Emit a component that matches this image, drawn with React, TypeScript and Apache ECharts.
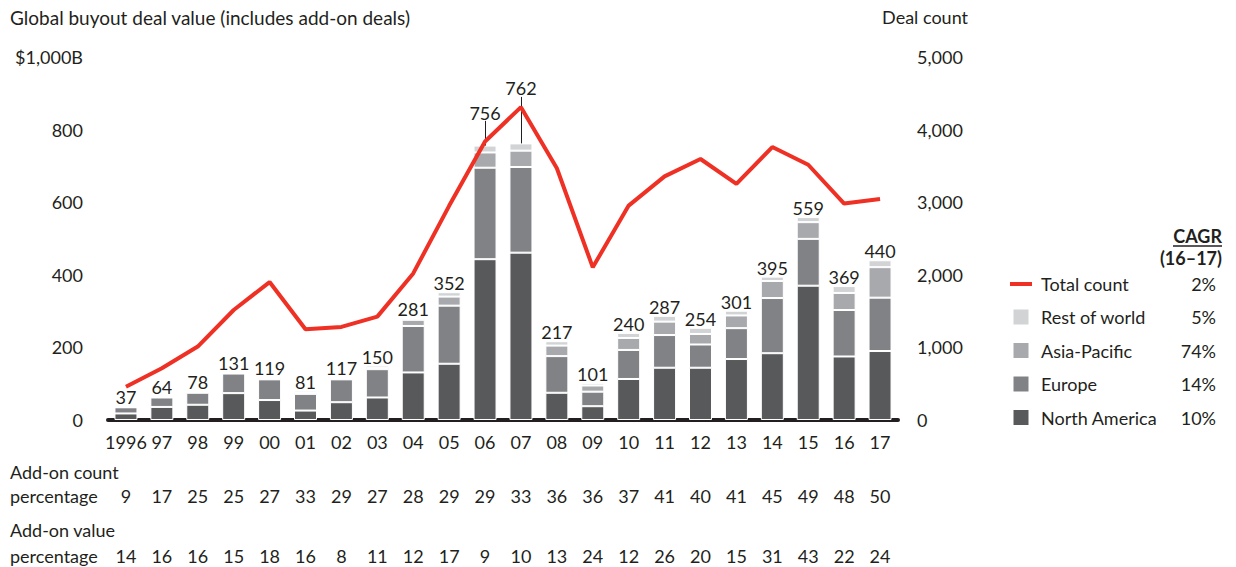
import React, { useEffect, useRef } from 'react';
import * as echarts from 'echarts';

const years = ['1996', '97', '98', '99', '00', '01', '02', '03', '04', '05', '06', '07', '08', '09', '10', '11', '12', '13', '14', '15', '16', '17'];
const totals = [37, 64, 78, 131, 119, 81, 117, 150, 281, 352, 756, 762, 217, 101, 240, 287, 254, 301, 395, 559, 369, 440];
const northAmerica = [18, 36, 42, 74, 55, 26, 49, 62, 131, 155, 443, 461, 75, 38, 113, 144, 144, 168, 184, 370, 175, 190];
const europe = [17, 26, 33, 54, 57, 46, 63, 78, 128, 160, 252, 236, 101, 40, 80, 90, 64, 85, 152, 129, 128, 147];
const asiaPacific = [1, 1, 2, 2, 3, 4, 3, 4, 17, 25, 42, 45, 29, 17, 33, 37, 29, 35, 47, 46, 47, 84];
const restOfWorld = [1, 1, 1, 1, 4, 5, 2, 6, 5, 12, 19, 20, 12, 6, 14, 16, 17, 13, 12, 14, 19, 19];
const dealCount = [457, 712, 1012, 1515, 1900, 1250, 1282, 1424, 2019, 2950, 3837, 4309, 3467, 2103, 2953, 3356, 3595, 3251, 3760, 3516, 2981, 3045];
const addOnCountPct = [9, 17, 25, 25, 27, 33, 29, 27, 28, 29, 29, 33, 36, 36, 37, 41, 40, 41, 45, 49, 48, 50];
const addOnValuePct = [14, 16, 16, 15, 18, 16, 8, 11, 12, 17, 9, 10, 13, 24, 12, 26, 20, 15, 31, 43, 22, 24];
const legendNames = ['Total count', 'Rest of world', 'Asia-Pacific', 'Europe', 'North America'];
const cagr = ['2%', '5%', '74%', '14%', '10%'];
const raisedLabels: Record<string, { dy: number; leaderTop: number }> = {
  '06': { dy: -24, leaderTop: 824 },
  '07': { dy: -46, leaderTop: 890 },
};

const FONT = 'Lato';
const FS = 18;
const TEXT = '#231f20';
const RED = '#ee3124';
const C_NA = '#58595b';
const C_EU = '#808285';
const C_AP = '#a7a9ac';
const C_ROW = '#d1d3d4';

export default function App() {
  const ref = useRef<HTMLDivElement>(null);
  useEffect(() => {
    if (!ref.current) return;
    const chart = echarts.init(ref.current, undefined, { renderer: 'svg' });
    const barBase = {
      type: 'bar',
      stack: 'value',
      barWidth: 23,
      yAxisIndex: 0,
    };
    const square = 'path://M0 0h17v17H0z';
    const rowData = restOfWorld.map((v, i) => {
      const r = raisedLabels[years[i]];
      return r ? { value: v, label: { offset: [0, r.dy] } } : v;
    });
    const leaderLines = Object.keys(raisedLabels).map((k) => {
      const idx = years.indexOf(k);
      return [{ coord: [k, totals[idx]] }, { coord: [k, raisedLabels[k].leaderTop] }];
    });
    const txt = (extra: any) => ({ type: 'text', ...extra, style: { fontSize: FS, fill: TEXT, fontFamily: FONT, ...extra.style } });
    const option: any = {
      animation: false,
      textStyle: { fontFamily: FONT, color: TEXT },
      grid: { left: 108, right: 338, top: 57, bottom: 147 },
      xAxis: {
        type: 'category',
        data: years,
        axisLine: { lineStyle: { color: TEXT, width: 4 } },
        axisTick: { show: false },
        axisLabel: {
          interval: 0,
          margin: 11,
          formatter: (v: string, i: number) =>
            `{y|${v}}\n{g1| }\n{c|${addOnCountPct[i]}}\n{g2| }\n{c|${addOnValuePct[i]}}`,
          rich: {
            y: { fontSize: FS, lineHeight: 22, color: TEXT, fontFamily: FONT },
            g1: { fontSize: 10, lineHeight: 32 },
            c: { fontSize: FS, lineHeight: 22, color: TEXT, fontFamily: FONT },
            g2: { fontSize: 10, lineHeight: 38 },
          },
        },
      },
      yAxis: [
        {
          type: 'value',
          min: 0,
          max: 1000,
          interval: 200,
          splitLine: { show: false },
          axisLine: { show: false },
          axisTick: { show: false },
          axisLabel: {
            margin: 25,
            fontSize: FS,
            color: TEXT,
            fontFamily: FONT,
            formatter: (v: number) => (v === 1000 ? '$1,000B' : String(v)),
          },
        },
        {
          type: 'value',
          min: 0,
          max: 5000,
          interval: 1000,
          position: 'right',
          splitLine: { show: false },
          axisLine: { show: false },
          axisTick: { show: false },
          axisLabel: {
            margin: 19,
            fontSize: FS,
            color: TEXT,
            fontFamily: FONT,
            formatter: (v: number) => v.toLocaleString('en-US'),
          },
        },
      ],
      legend: {
        orient: 'vertical',
        left: 1005,
        top: 270,
        itemWidth: 22,
        itemHeight: 17,
        itemGap: 14.5,
        selectedMode: false,
        data: legendNames.map((n, i) =>
          i === 0 ? { name: n, icon: 'path://M0 0h22v4H0z' } : { name: n, icon: square }
        ),
        formatter: (name: string) => `{n|${name}}{c|${cagr[legendNames.indexOf(name)]}}`,
        textStyle: {
          rich: {
            n: { width: 130, fontSize: FS, color: TEXT, fontFamily: FONT, padding: [0, 0, 0, 4] },
            c: { width: 45, fontSize: FS, color: TEXT, fontFamily: FONT, align: 'right' },
          },
        },
      },
      graphic: [
        txt({ left: 10, top: 8, style: { text: 'Global buyout deal value (includes add-on deals)', fontSize: 19 } }),
        txt({ right: 1236 - 968, top: 8, style: { text: 'Deal count' } }),
        txt({ x: 1222, y: 236, style: { text: 'CAGR', fontWeight: 'bold', align: 'right', verticalAlign: 'middle' } }),
        { type: 'line', shape: { x1: 1173, y1: 246, x2: 1222, y2: 246 }, style: { stroke: TEXT, lineWidth: 1.5 } },
        txt({ x: 1222, y: 258, style: { text: '(16–17)', fontWeight: 'bold', align: 'right', verticalAlign: 'middle' } }),
        txt({ x: 10, y: 472, style: { text: 'Add-on count', verticalAlign: 'middle' } }),
        txt({ x: 10, y: 496, style: { text: 'percentage', verticalAlign: 'middle' } }),
        txt({ x: 10, y: 530, style: { text: 'Add-on value', verticalAlign: 'middle' } }),
        txt({ x: 10, y: 556, style: { text: 'percentage', verticalAlign: 'middle' } }),
      ],
      series: [
        { ...barBase, name: 'North America', data: northAmerica, itemStyle: { color: C_NA, borderColor: '#fff', borderWidth: 1 } },
        { ...barBase, name: 'Europe', data: europe, itemStyle: { color: C_EU, borderColor: '#fff', borderWidth: 1 } },
        { ...barBase, name: 'Asia-Pacific', data: asiaPacific, itemStyle: { color: C_AP, borderColor: '#fff', borderWidth: 1 } },
        {
          ...barBase,
          name: 'Rest of world',
          data: rowData,
          itemStyle: { color: C_ROW, borderColor: '#fff', borderWidth: 1 },
          label: {
            show: true,
            position: 'top',
            distance: 0,
            fontSize: FS,
            color: TEXT,
            fontFamily: FONT,
            formatter: (p: any) => String(totals[p.dataIndex]),
          },
          markLine: {
            silent: true,
            symbol: 'none',
            label: { show: false },
            lineStyle: { color: TEXT, width: 1, type: 'solid' },
            data: leaderLines,
          },
        },
        {
          type: 'line',
          name: 'Total count',
          yAxisIndex: 1,
          data: dealCount,
          symbol: 'none',
          z: 5,
          itemStyle: { color: RED },
          lineStyle: { color: RED, width: 4 },
        },
      ],
    };
    chart.setOption(option);
    return () => chart.dispose();
  }, []);
  return <div ref={ref} style={{ position: 'absolute', left: 0, top: 0, width: 1236, height: 567 }} />;
}
